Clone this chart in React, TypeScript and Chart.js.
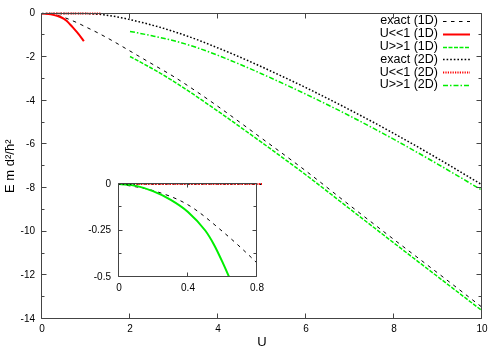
import React, { useEffect, useRef } from 'react';
import { Chart, registerables } from 'chart.js';

Chart.register(...registerables);

const FONT = "'Liberation Sans', Arial, Helvetica, sans-serif";

// ---- data ----
const exact1dU = [0, 0.2, 0.4, 0.6, 0.8, 1.0, 1.3, 1.6, 2.0, 2.5, 3.0, 3.5, 4.0, 5.0, 6.0, 7.0, 8.0, 9.0, 10.0];
const exact1dE = [0, -0.036, -0.112, -0.255, -0.425, -0.62, -0.92, -1.25, -1.72, -2.31, -2.9, -3.56, -4.26, -5.73, -7.22, -8.8, -10.36, -11.9, -13.46];

const weak1dU = [0, 0.1, 0.2, 0.3, 0.4, 0.5, 0.55, 0.6, 0.65, 0.7, 0.8, 0.9, 0.95];
const weak1dE = [0, -0.01, -0.04, -0.085, -0.15, -0.25, -0.325, -0.42, -0.525, -0.635, -0.87, -1.13, -1.27];

const strong1dU = [2, 2.5, 3, 4, 5, 6, 7, 8, 9, 10];
const strong1dE = [-1.97, -2.52, -3.12, -4.48, -5.92, -7.4, -8.96, -10.52, -12.07, -13.62];

const exact2dU = [0, 0.5, 1.0, 1.2, 1.4, 1.6, 1.8, 2.0, 2.5, 3.0, 3.5, 4.0, 4.5, 5.0, 5.5, 6.0, 7.0, 8.0, 9.0, 10.0];
const exact2dE = [0, 0, -0.005, -0.02, -0.06, -0.12, -0.19, -0.28, -0.53, -0.83, -1.18, -1.58, -2.0, -2.45, -2.92, -3.4, -4.42, -5.5, -6.65, -7.85];

const weak2dU = [0.1, 0.4, 0.7, 1.0, 1.35];
const weak2dE = [0, 0, 0, 0, 0];

const strong2dU = [2, 2.5, 3, 3.5, 4, 4.5, 5, 5.5, 6, 7, 8, 9, 10];
const strong2dE = [-0.82, -1.02, -1.25, -1.55, -1.92, -2.33, -2.77, -3.23, -3.7, -4.7, -5.77, -6.91, -8.1];

const mainXTicks = { min: 0, max: 10, step: 2 };
const mainYTicks = { min: -14, max: 0, step: 1, labelEvery: 2 };
const insetXTicks = { min: 0, max: 0.8, step: 0.4 };
const insetYTicks = { min: -0.5, max: 0, step: 0.125, labelEvery: 0.25 };

const xy = (xs: number[], ys: number[]) => xs.map((x, i) => ({ x, y: ys[i] }));

const RED = '#ff0000';
const GREEN = '#00ee00';

const styles: Record<string, any> = {
  exact1d: { label: 'exact (1D)', color: '#000000', width: 1, dash: [3.5, 4.5] },
  weak1d: { label: 'U<<1 (1D)', color: RED, width: 2, dash: [] },
  strong1d: { label: 'U>>1 (1D)', color: GREEN, width: 1.5, dash: [4, 1.5] },
  exact2d: { label: 'exact (2D)', color: '#000000', width: 1.5, dash: [1.6, 2] },
  weak2d: { label: 'U<<1 (2D)', color: RED, width: 2, dash: [1.2, 1.2] },
  strong2d: { label: 'U>>1 (2D)', color: GREEN, width: 1.5, dash: [5, 2, 1.5, 2] },
};
const legendOrder = ['exact1d', 'weak1d', 'strong1d', 'exact2d', 'weak2d', 'strong2d'];

function ds(key: string, xs: number[], ys: number[], extra: any = {}) {
  const s = styles[key];
  return {
    label: s.label,
    data: xy(xs, ys),
    borderColor: s.color,
    backgroundColor: s.color,
    borderWidth: s.width,
    borderDash: s.dash,
    pointRadius: 0,
    fill: false,
    cubicInterpolationMode: 'monotone',
    ...extra,
  };
}

function frameTicks(major: number, minor: number) {
  return {
    id: 'frameTicks',
    afterDatasetsDraw(chart: any) {
      const { ctx, chartArea, scales } = chart;
      const l = Math.round(chartArea.left) - 0.5;
      const r = Math.round(chartArea.right) - 0.5;
      const t = Math.round(chartArea.top) - 0.5;
      const b = Math.round(chartArea.bottom) - 0.5;
      ctx.save();
      ctx.strokeStyle = '#444';
      ctx.lineWidth = 1;
      ctx.setLineDash([]);
      ctx.beginPath();
      for (const tk of scales.x.ticks) {
        const p = Math.round(scales.x.getPixelForValue(tk.value)) - 0.5;
        const len = tk.label === '' ? minor : major;
        ctx.moveTo(p, b); ctx.lineTo(p, b - len);
        ctx.moveTo(p, t); ctx.lineTo(p, t + len);
      }
      for (const tk of scales.y.ticks) {
        const p = Math.round(scales.y.getPixelForValue(tk.value)) - 0.5;
        const len = tk.label === '' ? minor : major;
        ctx.moveTo(l, p); ctx.lineTo(l + len, p);
        ctx.moveTo(r, p); ctx.lineTo(r - len, p);
      }
      ctx.rect(l, t, r - l, b - t);
      ctx.stroke();
      ctx.restore();
    },
  };
}

function gnuLegend() {
  return {
    id: 'gnuLegend',
    afterDraw(chart: any) {
      const { ctx } = chart;
      ctx.save();
      ctx.font = `12.5px ${FONT}`;
      ctx.textAlign = 'right';
      ctx.textBaseline = 'middle';
      legendOrder.forEach((key, i) => {
        const s = styles[key];
        const y = 21 + i * 12.8;
        ctx.fillStyle = '#000';
        ctx.fillText(s.label, 438, y);
        ctx.beginPath();
        ctx.setLineDash(s.dash);
        ctx.strokeStyle = s.color;
        ctx.lineWidth = s.width;
        ctx.moveTo(443, Math.round(y) + 0.5);
        ctx.lineTo(470, Math.round(y) + 0.5);
        ctx.stroke();
      });
      ctx.setLineDash([]);
      ctx.restore();
    },
  };
}

const labelEvery = (every: number) => (v: number) => {
  const k = v / every;
  return Math.abs(k - Math.round(k)) < 1e-6 ? String(Math.round(v * 1000) / 1000) : '';
};

const noGrid = { display: false, drawTicks: false };

export default function App() {
  const mainRef = useRef<HTMLCanvasElement>(null);
  const insetRef = useRef<HTMLCanvasElement>(null);

  useEffect(() => {
    Chart.defaults.font.family = FONT;
    const tickFont = { family: FONT, size: 10 };

    const main = new Chart(mainRef.current as HTMLCanvasElement, {
      type: 'line',
      data: {
        datasets: [
          ds('weak1d', weak1dU, weak1dE),
          ds('strong1d', strong1dU, strong1dE),
          ds('strong2d', strong2dU, strong2dE),
          ds('weak2d', weak2dU, weak2dE, { clip: 5 }),
          ds('exact1d', exact1dU, exact1dE),
          ds('exact2d', exact2dU, exact2dE, { clip: 5 }),
        ] as any,
      },
      options: {
        animation: false,
        responsive: false,
        devicePixelRatio: 1,
        layout: { padding: { top: 13.5, right: 18, left: 0, bottom: 0 } },
        scales: {
          x: {
            type: 'linear',
            min: mainXTicks.min,
            max: mainXTicks.max,
            grid: noGrid,
            border: { display: false },
            ticks: { stepSize: mainXTicks.step, font: tickFont, color: '#000', padding: 4, maxRotation: 0, autoSkip: false },
            title: { display: true, text: 'U', font: { family: FONT, size: 13 }, color: '#000', padding: 0 },
            afterFit: (s: any) => { s.height = 31; },
          },
          y: {
            type: 'linear',
            min: mainYTicks.min,
            max: mainYTicks.max,
            grid: noGrid,
            border: { display: false },
            ticks: { stepSize: mainYTicks.step, font: tickFont, color: '#000', padding: 7, autoSkip: false, callback: labelEvery(mainYTicks.labelEvery) as any },
            title: { display: true, text: 'E m d²/ħ²', font: { family: FONT, size: 13 }, color: '#000', padding: { top: 3, bottom: 0 } },
            afterFit: (s: any) => { s.width = 42; },
          },
        },
        plugins: { legend: { display: false }, tooltip: { enabled: false } },
      },
      plugins: [frameTicks(5, 3), gnuLegend()],
    } as any);

    const inset = new Chart(insetRef.current as HTMLCanvasElement, {
      type: 'line',
      data: {
        datasets: [
          ds('weak2d', weak2dU, weak2dE, { clip: 5 }),
          ds('exact2d', exact2dU, exact2dE, { clip: 5 }),
          ds('weak1d', weak1dU, weak1dE, { borderColor: GREEN, backgroundColor: GREEN, borderWidth: 2 }),
          ds('exact1d', exact1dU, exact1dE),
        ] as any,
      },
      options: {
        animation: false,
        responsive: false,
        devicePixelRatio: 1,
        layout: { padding: { top: 9, right: 13, left: 0, bottom: 0 } },
        scales: {
          x: {
            type: 'linear',
            min: insetXTicks.min,
            max: insetXTicks.max,
            grid: noGrid,
            border: { display: false },
            ticks: { stepSize: insetXTicks.step, font: tickFont, color: '#000', padding: 5, maxRotation: 0, autoSkip: false, callback: labelEvery(insetXTicks.step) as any },
            afterFit: (s: any) => { s.height = 28; },
          },
          y: {
            type: 'linear',
            min: insetYTicks.min,
            max: insetYTicks.max,
            grid: noGrid,
            border: { display: false },
            ticks: { stepSize: insetYTicks.step, font: tickFont, color: '#000', padding: 8, autoSkip: false, callback: labelEvery(insetYTicks.labelEvery) as any },
            afterFit: (s: any) => { s.width = 39; },
          },
        },
        plugins: { legend: { display: false }, tooltip: { enabled: false } },
      },
      plugins: [frameTicks(4, 3)],
    } as any);

    return () => {
      main.destroy();
      inset.destroy();
    };
  }, []);

  return (
    <div style={{ position: 'absolute', left: 0, top: 0, width: 500, height: 350, background: '#fff' }}>
      <canvas ref={mainRef} width={500} height={350} style={{ position: 'absolute', left: 0, top: 0 }} />
      <canvas ref={insetRef} width={190} height={135} style={{ position: 'absolute', left: 80, top: 170 }} />
    </div>
  );
}
